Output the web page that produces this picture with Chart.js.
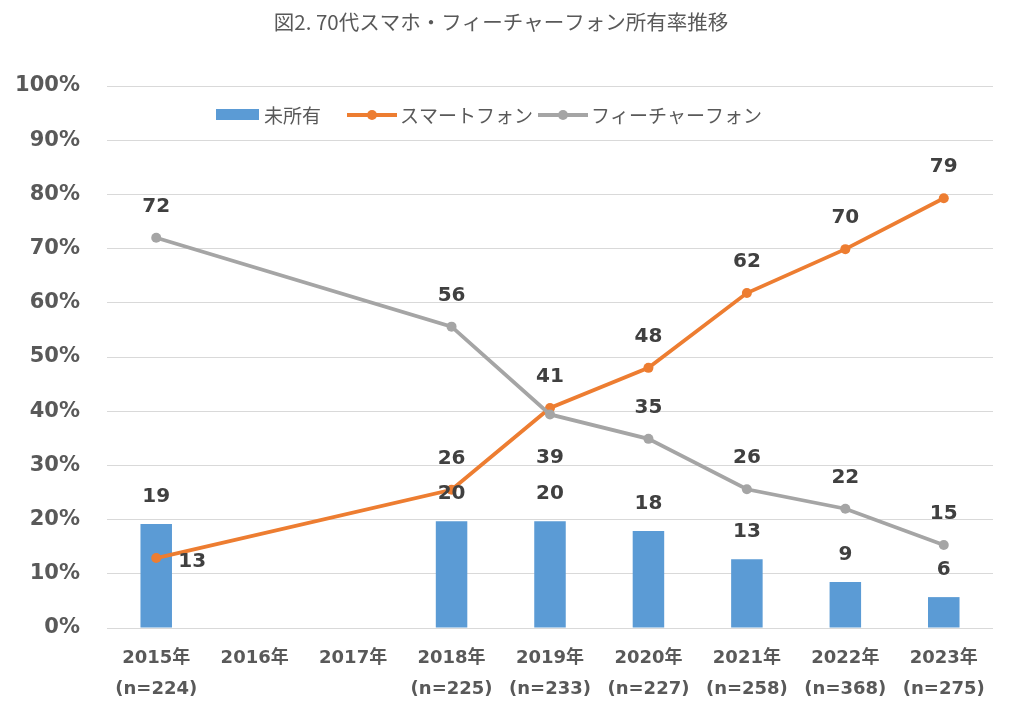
<!DOCTYPE html>
<html lang="ja">
<head>
<meta charset="utf-8">
<title>70代スマホ・フィーチャーフォン所有率推移</title>
<script src="https://cdn.jsdelivr.net/npm/chart.js@4.4.1/dist/chart.umd.min.js"></script>
<style>
  html, body { margin: 0; padding: 0; background: #fff; }
  .wrap { position: relative; width: 1024px; height: 715px; }
</style>
</head>
<body>
<div class="wrap"><canvas id="chart"></canvas></div>
<script>
/* ---------- données (en %) ---------- */
const TITLE = "図2. 70代スマホ・フィーチャーフォン所有率推移";
const YEARS = ["2015年", "2016年", "2017年", "2018年", "2019年", "2020年", "2021年", "2022年", "2023年"];
const SAMPLES = ["(n=224)", null, null, "(n=225)", "(n=233)", "(n=227)", "(n=258)", "(n=368)", "(n=275)"];
const NONE_OWNED = [19.2, null, null, 19.7, 19.7, 17.9, 12.7, 8.5, 5.7];
const SMARTPHONE = [12.9, null, null, 25.5, 40.6, 48.0, 61.8, 69.9, 79.3];
const FEATURE_PHONE = [72.0, null, null, 55.6, 39.4, 34.9, 25.6, 22.0, 15.3];
const Y_TICKS = [0, 10, 20, 30, 40, 50, 60, 70, 80, 90, 100];

/* placement des étiquettes : "up" (défaut), "right", "down" */
const SMART_LABEL_POS = ["right", null, null, "up", "up", "up", "up", "up", "up"];
const FEATURE_LABEL_POS = ["up", null, null, "up", "down", "up", "up", "up", "up"];

const BLUE = "#5B9BD5";
const ORANGE = "#ED7D31";
const GREY = "#A5A5A5";
const TEXT = "#595959";
const LABEL = "#404040";
const NUM_FONT = "'DejaVu Sans', 'Noto Sans CJK JP', sans-serif";
const JP_FONT = "'Noto Sans CJK JP', 'DejaVu Sans', sans-serif";

const labels = YEARS.map((y, i) => (SAMPLES[i] ? [y, SAMPLES[i]] : y));

/* ---------- titre + légende dessinés à la main ---------- */
const headerPlugin = {
  id: "header",
  afterDraw(chart) {
    const ctx = chart.ctx;
    ctx.save();
    ctx.fillStyle = TEXT;
    ctx.font = `20.5px ${JP_FONT}`;
    ctx.textAlign = "center";
    ctx.textBaseline = "middle";
    ctx.fillText(TITLE, 501, 22);

    // légende
    const y = 115;
    ctx.font = `19px ${JP_FONT}`;
    ctx.textAlign = "left";
    ctx.fillStyle = BLUE;
    ctx.fillRect(216, y - 6, 43, 11);
    ctx.fillStyle = TEXT;
    ctx.fillText("未所有", 264, y + 1);

    const lineKey = (x0, color, text) => {
      ctx.strokeStyle = color;
      ctx.lineWidth = 4;
      ctx.beginPath(); ctx.moveTo(x0, y); ctx.lineTo(x0 + 50, y); ctx.stroke();
      ctx.fillStyle = color;
      ctx.beginPath(); ctx.arc(x0 + 25, y, 5, 0, Math.PI * 2); ctx.fill();
      ctx.fillStyle = TEXT;
      ctx.fillText(text, x0 + 53, y + 1);
    };
    lineKey(347, ORANGE, "スマートフォン");
    lineKey(538, GREY, "フィーチャーフォン");
    ctx.restore();
  },
};

/* ---------- étiquettes de valeurs ---------- */
const valueLabels = {
  id: "valueLabels",
  afterDatasetsDraw(chart) {
    const ctx = chart.ctx;
    ctx.save();
    ctx.fillStyle = LABEL;
    ctx.font = `bold 20px ${NUM_FONT}`;
    ctx.textAlign = "center";
    ctx.textBaseline = "middle";
    chart.data.datasets.forEach((ds, di) => {
      const meta = chart.getDatasetMeta(di);
      meta.data.forEach((el, i) => {
        const v = ds.data[i];
        if (v == null) return;
        const txt = String(Math.round(v));
        if (ds.type === "bar") {
          ctx.fillText(txt, el.x, el.y - 27);
          return;
        }
        const pos = ds.labelPos[i] || "up";
        if (pos === "right") ctx.fillText(txt, el.x + 36, el.y + 4);
        else if (pos === "down") ctx.fillText(txt, el.x, el.y + 43);
        else ctx.fillText(txt, el.x, el.y - 31);
      });
    });
    ctx.restore();
  },
};

new Chart(document.getElementById("chart"), {
  data: {
    labels,
    datasets: [
      {
        type: "bar", label: "未所有", data: NONE_OWNED, backgroundColor: BLUE,
        barPercentage: 0.32, categoryPercentage: 1, order: 3,
      },
      {
        type: "line", label: "スマートフォン", data: SMARTPHONE, labelPos: SMART_LABEL_POS,
        borderColor: ORANGE, backgroundColor: ORANGE, borderWidth: 3.8,
        pointRadius: 5, pointBorderWidth: 0, spanGaps: true, tension: 0, order: 2,
      },
      {
        type: "line", label: "フィーチャーフォン", data: FEATURE_PHONE, labelPos: FEATURE_LABEL_POS,
        borderColor: GREY, backgroundColor: GREY, borderWidth: 3.8,
        pointRadius: 5, pointBorderWidth: 0, spanGaps: true, tension: 0, order: 1,
      },
    ],
  },
  options: {
    responsive: true, maintainAspectRatio: false, animation: false,
    layout: { padding: { top: 86, right: 31, left: 0, bottom: 0 } },
    plugins: { legend: { display: false }, title: { display: false }, tooltip: { enabled: false } },
    scales: {
      x: {
        grid: { display: false, drawTicks: false },
        border: { display: false },
        ticks: {
          color: TEXT, padding: 15, maxRotation: 0, autoSkip: false,
          font: { family: NUM_FONT, size: 18, weight: "bold", lineHeight: 1.72 },
        },
        afterFit: (s) => { s.height = 87; },
      },
      y: {
        min: 0, max: 100,
        afterBuildTicks: (s) => { s.ticks = Y_TICKS.map((v) => ({ value: v })); },
        grid: { color: "#D9D9D9", lineWidth: 1, drawTicks: false },
        border: { display: false },
        ticks: {
          color: TEXT, padding: 27,
          font: { family: NUM_FONT, size: 21, weight: "bold" },
          callback: (v) => `${v}%`,
        },
        afterFit: (s) => { s.width = 107; },
      },
    },
  },
  plugins: [valueLabels, headerPlugin],
});
</script>
</body>
</html>
